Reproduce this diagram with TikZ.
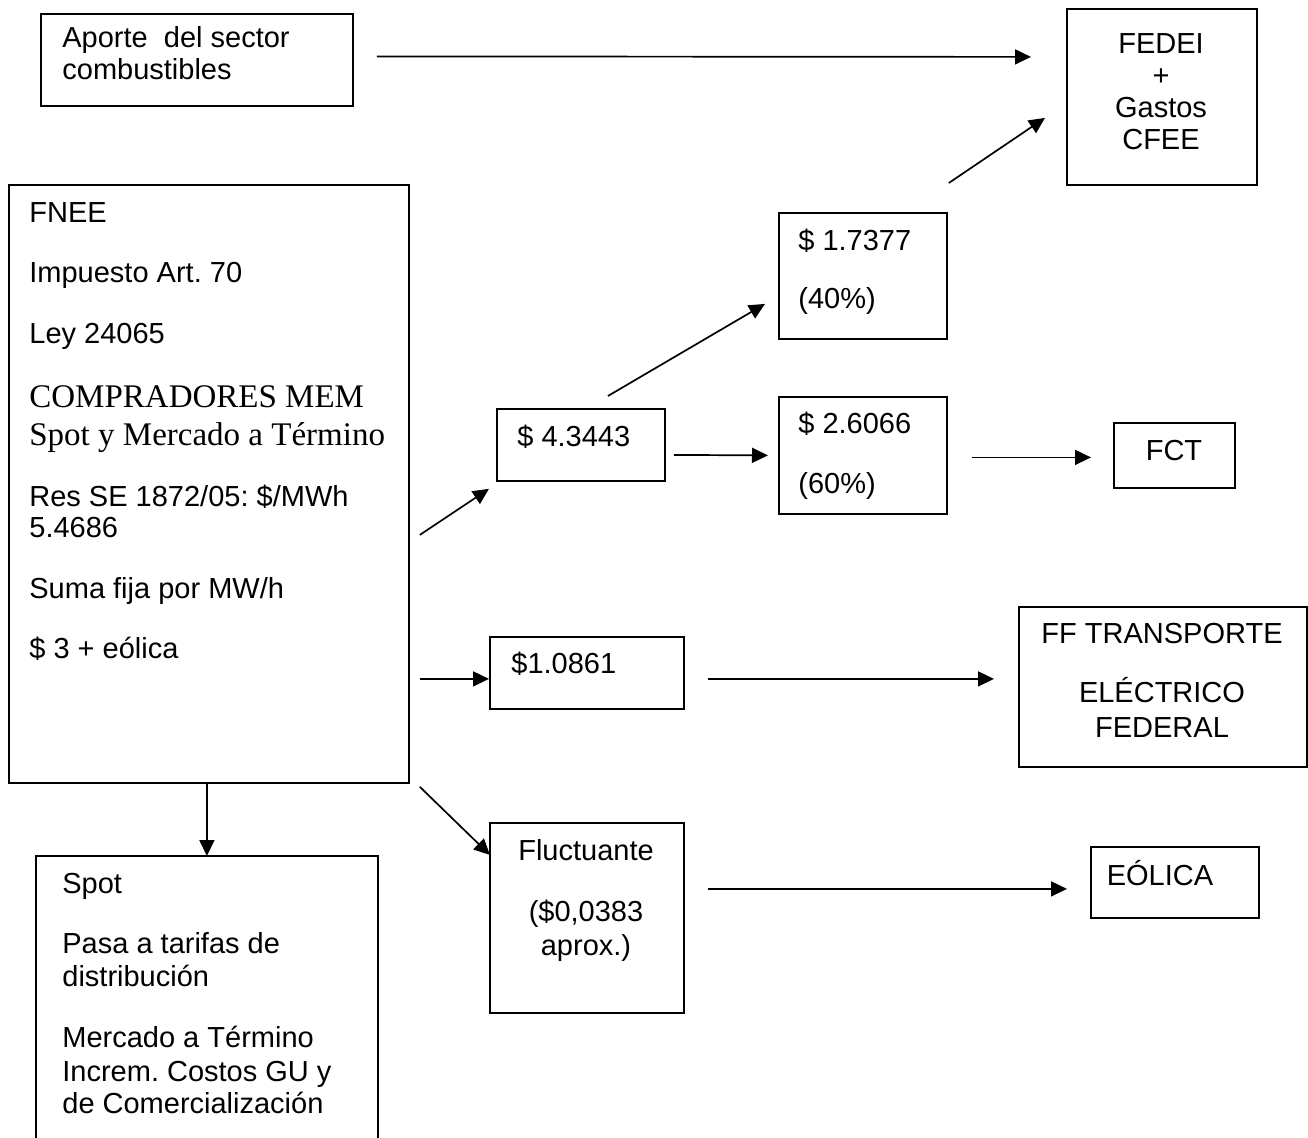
\documentclass[tikz,border=0pt]{standalone}
\usepackage{fontspec}
\setmainfont{Liberation Sans}
\newfontfamily\cambriafont{Liberation Serif}
\usetikzlibrary{arrows.meta,calc}
\frenchspacing
\begin{document}
\begin{tikzpicture}[x=0.5pt,y=-0.5pt,
  box/.style={draw,line width=0.9pt,rectangle,inner sep=0pt,anchor=north west},
  arr/.style={line width=0.85pt,-{Triangle[length=8pt,width=7.5pt]}},
  lt/.style={anchor=base west,inner sep=0pt,font=\fontsize{14.5}{17}\selectfont},
  ct/.style={anchor=base,inner sep=0pt,font=\fontsize{14.5}{17}\selectfont},
  st/.style={anchor=base west,inner sep=0pt,font=\fontsize{16.5}{19}\cambriafont}]
\useasboundingbox (0,0) rectangle (1308,1137);

% boxes
\node[box,minimum width=156pt,minimum height=46pt] (aporte) at (40,13) {};
\node[box,minimum width=95pt,minimum height=88pt] (fedei) at (1066,8) {};
\node[box,minimum width=200pt,minimum height=299pt] (fnee) at (8,184) {};
\node[box,minimum width=84pt,minimum height=63pt] (b17) at (778,212) {};
\node[box,minimum width=84pt,minimum height=36pt] (b43) at (496,408) {};
\node[box,minimum width=84pt,minimum height=58.5pt] (b26) at (778,396) {};
\node[box,minimum width=60.5pt,minimum height=32.5pt] (fct) at (1113,422) {};
\node[box,minimum width=97pt,minimum height=36pt] (b10) at (489,636) {};
\node[box,minimum width=144pt,minimum height=80pt] (ff) at (1018,606) {};
\node[box,minimum width=97pt,minimum height=95pt] (fluc) at (489,822) {};
\node[box,minimum width=84pt,minimum height=35.5pt] (eol) at (1090,846) {};
\node[box,draw=none,minimum width=170pt,minimum height=140.5pt] (spot) at (36,856) {};
\draw[line width=0.9pt] (spot.south west) -- (spot.north west) -- (spot.north east) -- (spot.south east);

% texts
\node[lt] (ap1) at (62,47) {Aporte\ \ del sector};
\node[lt] (ap2) at (62,79) {combustibles};

\node[ct] (fe1) at (1161,53) {FEDEI};
\node[ct] (fe2) at (1161,85) {+};
\node[ct] (fe3) at (1161,117) {Gastos};
\node[ct] (fe4) at (1161,149) {CFEE};

\node[lt] (fn1) at (29,222) {FNEE};
\node[lt] (fn2) at (29,282) {Impuesto Art. 70};
\node[lt] (fn3) at (29,343) {Ley 24065};
\node[st] (fn4) at (29,407) {COMPRADORES MEM};
\node[st] (fn5) at (29,445) {Spot y Mercado a Término};
\node[lt] (fn6) at (29,506) {Res SE 1872/05: \$/MWh};
\node[lt] (fn7) at (29,537) {5.4686};
\node[lt] (fn8) at (29,598) {Suma fija por MW/h};
\node[lt] (fn9) at (29,658) {\$ 3 + eólica};

\node[lt] (t17a) at (798,250) {\$ 1.7377};
\node[lt] (t17b) at (798,308) {(40\%)};
\node[lt] (t43) at (517,446) {\$ 4.3443};
\node[lt] (t26a) at (798,433) {\$ 2.6066};
\node[lt] (t26b) at (798,493) {(60\%)};
\node[ct] (tfct) at (1174,460) {FCT};
\node[lt] (t10) at (511,673) {\$1.0861};
\node[ct] (tff1) at (1162,643) {FF TRANSPORTE};
\node[ct] (tff2) at (1162,702) {ELÉCTRICO};
\node[ct] (tff3) at (1162,737) {FEDERAL};
\node[ct] (tfl1) at (586,860) {Fluctuante};
\node[ct] (tfl2) at (586,921) {(\$0,0383};
\node[ct] (tfl3) at (586,955) {aprox.)};
\node[ct] (teol) at (1160,885) {EÓLICA};

\node[lt] (sp1) at (62,893) {Spot};
\node[lt] (sp2) at (62,953) {Pasa a tarifas de};
\node[lt] (sp3) at (62,986) {distribución};
\node[lt] (sp4) at (62,1047) {Mercado a Término};
\node[lt] (sp5) at (62,1081) {Increm. Costos GU y};
\node[lt] (sp6) at (62,1113) {de Comercialización};

% connectors
\draw[arr] ($(aporte.east)+(23,-3.5)$) -- ($(fedei.west)+(-35,-40)$);
\draw[arr] ($(b17.north east)+(1,-29)$) -- ($(fedei.west)+(-21,21)$);
\draw[arr] ($(b43.north)+(27,-12)$) -- ($(b17.west)+(-13,28)$);
\draw[arr] ($(b43.east)+(8,10)$) -- ($(b26.west)+(-10,0)$);
\draw[arr] ($(b26.east)+(24,2)$) -- ($(fct.west)+(-22,2)$);
\draw[arr] ($(fnee.east)+(10,51)$) -- ($(b43.south west)+(-7,7)$);
\draw[arr] ($(fnee.east)+(10,195)$) -- ($(b10.west)+(0,6)$);
\draw[arr] ($(b10.east)+(23,6)$) -- ($(ff.west)+(-24,-8)$);
\draw[arr] ($(fnee.south east)+(10,3)$) -- ($(fluc.north west)+(1,33)$);
\draw[arr] ($(fluc.east)+(23,-29)$) -- ($(eol.west)+(-23,6.5)$);
\draw[arr] (fnee.south -| spot.north) -- (spot.north);
\end{tikzpicture}
\end{document}
